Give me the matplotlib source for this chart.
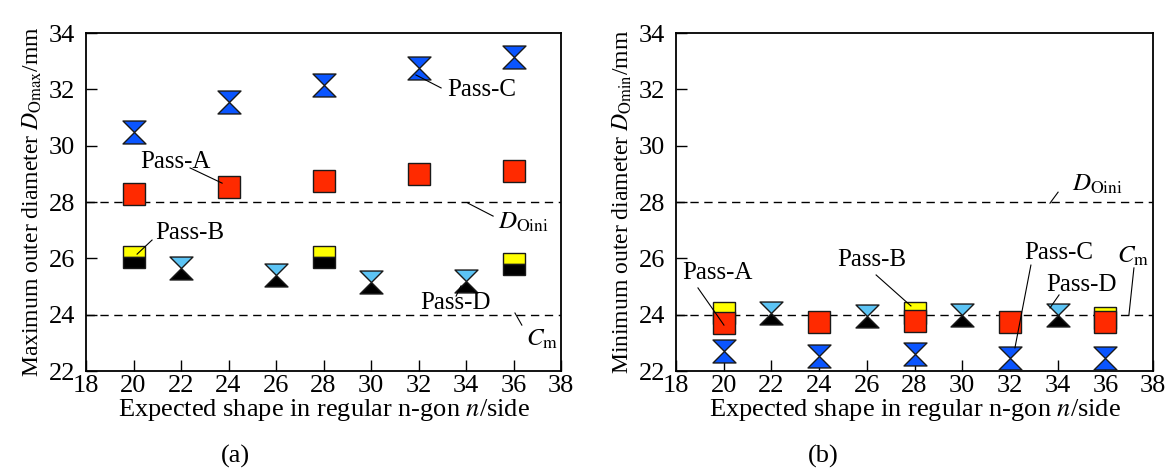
import numpy as np
import matplotlib
matplotlib.use('Agg')
import matplotlib.pyplot as plt
from matplotlib.path import Path

plt.rcParams['font.family'] = ['Liberation Serif', 'DejaVu Serif']
plt.rcParams['mathtext.fontset'] = 'stix'

# data
n_ac = [20, 24, 28, 32, 36]          # Pass-A and Pass-C
n_b = [20, 28, 36]                   # Pass-B
n_d = [22, 26, 30, 34]               # Pass-D

dmax_A = [28.3, 28.55, 28.75, 29.0, 29.1]
dmax_B = [26.05, 26.05, 25.8]
dmax_C = [30.5, 31.55, 32.15, 32.75, 33.15]
dmax_D = [25.65, 25.4, 25.15, 25.2]

dmin_A = [23.7, 23.75, 23.77, 23.75, 23.75]
dmin_B = [24.05, 24.05, 23.9]
dmin_C = [22.7, 22.55, 22.6, 22.45, 22.45]
dmin_D = [24.05, 23.95, 24.0, 24.0]

D_oini = 28
C_m = 24

xticks = np.arange(18, 39, 2)
yticks = np.arange(22, 35, 2)

# colours
RED = '#ff2a00'
YEL = '#ffff00'
BLUE = '#0a55ff'
LBLUE = '#5cc4f5'
EDGE = '#1a1a1a'

# hourglass = two triangles meeting at the marker centre
top_tri = Path([(-1, 1), (1, 1), (0, 0), (-1, 1)],
               [Path.MOVETO, Path.LINETO, Path.LINETO, Path.CLOSEPOLY])
bot_tri = Path([(-1, -1), (1, -1), (0, 0), (-1, -1)],
               [Path.MOVETO, Path.LINETO, Path.LINETO, Path.CLOSEPOLY])

SQ = 15.5
HG = 16.5
FS_TICK = 19
FS_XLAB = 19
FS_YLAB = 17
FS_ANN = 18


def hourglass(ax, x, y, c_top, c_bot):
    ax.plot(x, y, ls='none', marker=top_tri, ms=HG, mfc=c_top, mec=EDGE, mew=1.0, zorder=4)
    ax.plot(x, y, ls='none', marker=bot_tri, ms=HG, mfc=c_bot, mec=EDGE, mew=1.0, zorder=4)


def label(ax, txt, txy, p0, p1):
    ax.text(txy[0], txy[1], txt, fontsize=FS_ANN, ha='center', va='center', zorder=6)
    ax.plot([p0[0], p1[0]], [p0[1], p1[1]], color='k', lw=0.8, zorder=6)


def setup(ax, ylabel, xlabel):
    ax.set_xlim(18, 38)
    ax.set_ylim(22, 34)
    ax.set_xticks(xticks)
    ax.set_yticks(yticks)
    ax.tick_params(direction='in', length=8, width=1.0, labelsize=FS_TICK,
                   top=False, right=False, pad=3)
    ax.tick_params(axis='y', pad=8)
    for s in ax.spines.values():
        s.set_linewidth(1.3)
    ax.set_ylabel(ylabel, fontsize=FS_YLAB, labelpad=3)
    ax.set_xlabel(xlabel, fontsize=FS_XLAB, labelpad=0)
    ax.axhline(D_oini, color='k', ls=(0, (6, 4)), lw=1.0, zorder=1)
    ax.axhline(C_m, color='k', ls=(0, (6, 4)), lw=1.0, zorder=1)


fig = plt.figure(figsize=(11.72, 4.73), dpi=100)
ax1 = fig.add_axes([0.0734, 0.2156, 0.4053, 0.7146])
ax2 = fig.add_axes([0.5768, 0.2156, 0.4070, 0.7146])

xlab = 'Expected shape in regular n-gon $n$/side'

# (a) maximum outer diameter
setup(ax1, 'Maximum outer diameter $D_{\\mathrm{Omax}}$/mm', xlab)
hourglass(ax1, n_ac, dmax_C, BLUE, BLUE)
ax1.plot(n_ac, dmax_A, ls='none', marker='s', ms=SQ, mfc=RED, mec=EDGE, mew=1.0, zorder=4)
ax1.plot(n_b, dmax_B, ls='none', marker='s', ms=SQ, fillstyle='top', mfc=YEL,
         mfcalt='k', mec=EDGE, mew=1.0, zorder=4)
hourglass(ax1, n_d, dmax_D, LBLUE, 'k')

label(ax1, 'Pass-A', (21.75, 29.42), (22.38, 29.21), (23.73, 28.67))
label(ax1, 'Pass-B', (22.38, 26.90), (20.78, 26.65), (20.15, 26.15))
label(ax1, 'Pass-C', (34.67, 31.97), (32.95, 32.05), (31.89, 32.51))
label(ax1, '$D_{\\mathrm{Oini}}$', (36.4, 27.29), (34.08, 27.96), (35.14, 27.50))
label(ax1, 'Pass-D', (33.54, 24.41), (33.58, 24.66), (33.79, 25.02))
label(ax1, '$C_{\\mathrm{m}}$', (37.2, 23.14), (36.06, 24.06), (36.35, 23.63))

# (b) minimum outer diameter
setup(ax2, 'Minimum outer diameter $D_{\\mathrm{Omin}}$/mm', xlab)
ax2.plot(n_b, dmin_B, ls='none', marker='s', ms=SQ, fillstyle='top', mfc=YEL,
         mfcalt='k', mec=EDGE, mew=1.0, zorder=3)
ax2.plot(n_ac, dmin_A, ls='none', marker='s', ms=SQ, mfc=RED, mec=EDGE, mew=1.0, zorder=4)
hourglass(ax2, n_ac, dmin_C, BLUE, BLUE)
hourglass(ax2, n_d, dmin_D, LBLUE, 'k')

label(ax2, 'Pass-A', (19.72, 25.48), (18.92, 24.95), (20.01, 23.63))
label(ax2, 'Pass-B', (26.22, 25.94), (26.39, 25.41), (27.85, 24.31))
label(ax2, 'Pass-C', (34.06, 26.19), (32.88, 25.76), (32.21, 22.82))
label(ax2, 'Pass-D', (34.98, 25.05), (34.06, 24.70), (33.68, 24.24))
label(ax2, '$C_{\\mathrm{m}}$', (37.16, 26.08), (37.20, 25.66), (36.99, 23.99))
label(ax2, '$D_{\\mathrm{Oini}}$', (35.69, 28.64), (34.02, 28.35), (33.68, 27.96))

fig.text(235 / 1172, 1 - 456 / 473, '(a)', fontsize=FS_XLAB, ha='center', va='center')
fig.text(823 / 1172, 1 - 456 / 473, '(b)', fontsize=FS_XLAB, ha='center', va='center')

fig.savefig('out.png', dpi=100)
